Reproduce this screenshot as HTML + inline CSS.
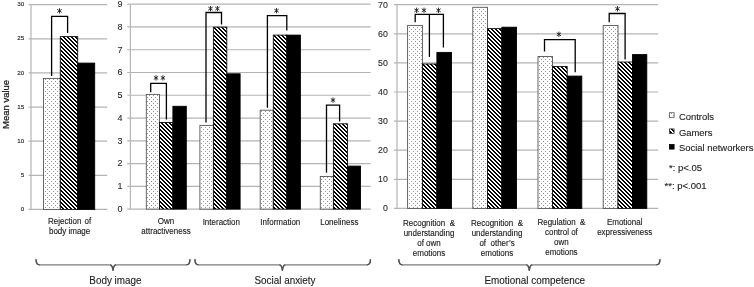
<!DOCTYPE html>
<html><head><meta charset="utf-8"><style>
html,body{margin:0;padding:0;background:#fff;}
svg{display:block;}
text{font-family:"Liberation Sans", sans-serif;white-space:pre;}
svg{will-change:transform;}
</style></head><body>
<svg width="754" height="287" viewBox="0 0 754 287">
<rect width="754" height="287" fill="#fff"/>

<defs>
<pattern id="dots" patternUnits="userSpaceOnUse" width="4" height="4" x="0" y="0">
<rect width="4" height="4" fill="#fff"/>
<rect x="1" y="3" width="1" height="1" fill="#959595"/>
<rect x="3" y="1" width="1" height="1" fill="#959595"/>
</pattern>
<pattern id="hatch" patternUnits="userSpaceOnUse" width="4" height="4">
<rect width="4" height="4" fill="#fff"/>
<rect x="2" y="0" width="1" height="1" fill="#000"/>
<rect x="3" y="0" width="1" height="1" fill="#000"/>
<rect x="0" y="1" width="1" height="1" fill="#000"/>
<rect x="3" y="1" width="1" height="1" fill="#000"/>
<rect x="0" y="2" width="1" height="1" fill="#000"/>
<rect x="1" y="2" width="1" height="1" fill="#000"/>
<rect x="1" y="3" width="1" height="1" fill="#000"/>
<rect x="2" y="3" width="1" height="1" fill="#000"/>
</pattern>
</defs>
<line x1="28.6" y1="209.4" x2="107.2" y2="209.4" stroke="#b4b4b4" stroke-width="1.2"/>
<line x1="28.6" y1="175.28" x2="107.2" y2="175.28" stroke="#b4b4b4" stroke-width="1.2"/>
<line x1="28.6" y1="141.17" x2="107.2" y2="141.17" stroke="#b4b4b4" stroke-width="1.2"/>
<line x1="28.6" y1="107.05" x2="107.2" y2="107.05" stroke="#b4b4b4" stroke-width="1.2"/>
<line x1="28.6" y1="72.93" x2="107.2" y2="72.93" stroke="#b4b4b4" stroke-width="1.2"/>
<line x1="28.6" y1="38.82" x2="107.2" y2="38.82" stroke="#b4b4b4" stroke-width="1.2"/>
<line x1="28.6" y1="4.7" x2="107.2" y2="4.7" stroke="#b4b4b4" stroke-width="1.2"/>
<line x1="31" y1="4.7" x2="31" y2="209.4" stroke="#b4b4b4" stroke-width="1.2"/>
<text transform="translate(24.2,211.05) scale(1,1.0)" font-size="6.2" text-anchor="end" fill="#1e1e1e" stroke="#1e1e1e" stroke-width="0.12" >0</text>
<text transform="translate(24.2,176.93) scale(1,1.0)" font-size="6.2" text-anchor="end" fill="#1e1e1e" stroke="#1e1e1e" stroke-width="0.12" >5</text>
<text transform="translate(24.2,142.82) scale(1,1.0)" font-size="6.2" text-anchor="end" fill="#1e1e1e" stroke="#1e1e1e" stroke-width="0.12" >10</text>
<text transform="translate(24.2,108.7) scale(1,1.0)" font-size="6.2" text-anchor="end" fill="#1e1e1e" stroke="#1e1e1e" stroke-width="0.12" >15</text>
<text transform="translate(24.2,74.58) scale(1,1.0)" font-size="6.2" text-anchor="end" fill="#1e1e1e" stroke="#1e1e1e" stroke-width="0.12" >20</text>
<text transform="translate(24.2,40.47) scale(1,1.0)" font-size="6.2" text-anchor="end" fill="#1e1e1e" stroke="#1e1e1e" stroke-width="0.12" >25</text>
<text transform="translate(24.2,6.35) scale(1,1.0)" font-size="6.2" text-anchor="end" fill="#1e1e1e" stroke="#1e1e1e" stroke-width="0.12" >30</text>
<line x1="127.2" y1="209.1" x2="370.6" y2="209.1" stroke="#b4b4b4" stroke-width="1.2"/>
<line x1="127.2" y1="186.33" x2="370.6" y2="186.33" stroke="#b4b4b4" stroke-width="1.2"/>
<line x1="127.2" y1="163.57" x2="370.6" y2="163.57" stroke="#b4b4b4" stroke-width="1.2"/>
<line x1="127.2" y1="140.8" x2="370.6" y2="140.8" stroke="#b4b4b4" stroke-width="1.2"/>
<line x1="127.2" y1="118.03" x2="370.6" y2="118.03" stroke="#b4b4b4" stroke-width="1.2"/>
<line x1="127.2" y1="95.27" x2="370.6" y2="95.27" stroke="#b4b4b4" stroke-width="1.2"/>
<line x1="127.2" y1="72.5" x2="370.6" y2="72.5" stroke="#b4b4b4" stroke-width="1.2"/>
<line x1="127.2" y1="49.73" x2="370.6" y2="49.73" stroke="#b4b4b4" stroke-width="1.2"/>
<line x1="127.2" y1="26.97" x2="370.6" y2="26.97" stroke="#b4b4b4" stroke-width="1.2"/>
<line x1="127.2" y1="4.2" x2="370.6" y2="4.2" stroke="#b4b4b4" stroke-width="1.2"/>
<line x1="130.4" y1="4.2" x2="130.4" y2="209.1" stroke="#b4b4b4" stroke-width="1.2"/>
<text transform="translate(122.4,211.9) scale(1,1.06)" font-size="9.0" text-anchor="end" fill="#2a2a2a" stroke="#2a2a2a" stroke-width="0.1" >0</text>
<text transform="translate(122.4,189.13) scale(1,1.06)" font-size="9.0" text-anchor="end" fill="#2a2a2a" stroke="#2a2a2a" stroke-width="0.1" >1</text>
<text transform="translate(122.4,166.37) scale(1,1.06)" font-size="9.0" text-anchor="end" fill="#2a2a2a" stroke="#2a2a2a" stroke-width="0.1" >2</text>
<text transform="translate(122.4,143.6) scale(1,1.06)" font-size="9.0" text-anchor="end" fill="#2a2a2a" stroke="#2a2a2a" stroke-width="0.1" >3</text>
<text transform="translate(122.4,120.83) scale(1,1.06)" font-size="9.0" text-anchor="end" fill="#2a2a2a" stroke="#2a2a2a" stroke-width="0.1" >4</text>
<text transform="translate(122.4,98.07) scale(1,1.06)" font-size="9.0" text-anchor="end" fill="#2a2a2a" stroke="#2a2a2a" stroke-width="0.1" >5</text>
<text transform="translate(122.4,75.3) scale(1,1.06)" font-size="9.0" text-anchor="end" fill="#2a2a2a" stroke="#2a2a2a" stroke-width="0.1" >6</text>
<text transform="translate(122.4,52.53) scale(1,1.06)" font-size="9.0" text-anchor="end" fill="#2a2a2a" stroke="#2a2a2a" stroke-width="0.1" >7</text>
<text transform="translate(122.4,29.77) scale(1,1.06)" font-size="9.0" text-anchor="end" fill="#2a2a2a" stroke="#2a2a2a" stroke-width="0.1" >8</text>
<text transform="translate(122.4,7.0) scale(1,1.06)" font-size="9.0" text-anchor="end" fill="#2a2a2a" stroke="#2a2a2a" stroke-width="0.1" >9</text>
<line x1="393.9" y1="208.4" x2="658.2" y2="208.4" stroke="#b4b4b4" stroke-width="1.2"/>
<line x1="393.9" y1="179.3" x2="658.2" y2="179.3" stroke="#b4b4b4" stroke-width="1.2"/>
<line x1="393.9" y1="150.2" x2="658.2" y2="150.2" stroke="#b4b4b4" stroke-width="1.2"/>
<line x1="393.9" y1="121.1" x2="658.2" y2="121.1" stroke="#b4b4b4" stroke-width="1.2"/>
<line x1="393.9" y1="92.0" x2="658.2" y2="92.0" stroke="#b4b4b4" stroke-width="1.2"/>
<line x1="393.9" y1="62.9" x2="658.2" y2="62.9" stroke="#b4b4b4" stroke-width="1.2"/>
<line x1="393.9" y1="33.8" x2="658.2" y2="33.8" stroke="#b4b4b4" stroke-width="1.2"/>
<line x1="393.9" y1="4.7" x2="658.2" y2="4.7" stroke="#b4b4b4" stroke-width="1.2"/>
<line x1="397" y1="4.7" x2="397" y2="208.4" stroke="#b4b4b4" stroke-width="1.2"/>
<text transform="translate(387.8,211.3) scale(1,1.06)" font-size="8.8" text-anchor="end" fill="#2a2a2a" stroke="#2a2a2a" stroke-width="0.1" >0</text>
<text transform="translate(387.8,182.2) scale(1,1.06)" font-size="8.8" text-anchor="end" fill="#2a2a2a" stroke="#2a2a2a" stroke-width="0.1" >10</text>
<text transform="translate(387.8,153.1) scale(1,1.06)" font-size="8.8" text-anchor="end" fill="#2a2a2a" stroke="#2a2a2a" stroke-width="0.1" >20</text>
<text transform="translate(387.8,124.0) scale(1,1.06)" font-size="8.8" text-anchor="end" fill="#2a2a2a" stroke="#2a2a2a" stroke-width="0.1" >30</text>
<text transform="translate(387.8,94.9) scale(1,1.06)" font-size="8.8" text-anchor="end" fill="#2a2a2a" stroke="#2a2a2a" stroke-width="0.1" >40</text>
<text transform="translate(387.8,65.8) scale(1,1.06)" font-size="8.8" text-anchor="end" fill="#2a2a2a" stroke="#2a2a2a" stroke-width="0.1" >50</text>
<text transform="translate(387.8,36.7) scale(1,1.06)" font-size="8.8" text-anchor="end" fill="#2a2a2a" stroke="#2a2a2a" stroke-width="0.1" >60</text>
<text transform="translate(387.8,7.6) scale(1,1.06)" font-size="8.8" text-anchor="end" fill="#2a2a2a" stroke="#2a2a2a" stroke-width="0.1" >70</text>
<rect x="43.5" y="78.4" width="16.80" height="131.00" fill="url(#dots)" stroke="#555" stroke-width="0.9"/>
<rect x="60.3" y="36.6" width="17.40" height="172.80" fill="url(#hatch)" stroke="#111" stroke-width="0.9"/>
<rect x="77.7" y="63.1" width="17.00" height="146.30" fill="#000" stroke="#000" stroke-width="0.9"/>
<rect x="146.3" y="94.4" width="13.20" height="114.70" fill="url(#dots)" stroke="#555" stroke-width="0.9"/>
<rect x="159.5" y="122.5" width="13.40" height="86.60" fill="url(#hatch)" stroke="#111" stroke-width="0.9"/>
<rect x="172.9" y="106.3" width="13.40" height="102.80" fill="#000" stroke="#000" stroke-width="0.9"/>
<rect x="199.9" y="125.4" width="13.50" height="83.70" fill="url(#dots)" stroke="#555" stroke-width="0.9"/>
<rect x="213.4" y="27.1" width="13.40" height="182.00" fill="url(#hatch)" stroke="#111" stroke-width="0.9"/>
<rect x="226.8" y="73.8" width="13.30" height="135.30" fill="#000" stroke="#000" stroke-width="0.9"/>
<rect x="260.2" y="110.2" width="13.10" height="98.90" fill="url(#dots)" stroke="#555" stroke-width="0.9"/>
<rect x="273.3" y="35.1" width="13.60" height="174.00" fill="url(#hatch)" stroke="#111" stroke-width="0.9"/>
<rect x="286.9" y="35.1" width="13.50" height="174.00" fill="#000" stroke="#000" stroke-width="0.9"/>
<rect x="320.3" y="176.5" width="13.10" height="32.60" fill="url(#dots)" stroke="#555" stroke-width="0.9"/>
<rect x="333.4" y="123.8" width="14.10" height="85.30" fill="url(#hatch)" stroke="#111" stroke-width="0.9"/>
<rect x="347.5" y="166.1" width="13.00" height="43.00" fill="#000" stroke="#000" stroke-width="0.9"/>
<rect x="407.6" y="25.4" width="14.80" height="183.00" fill="url(#dots)" stroke="#555" stroke-width="0.9"/>
<rect x="422.4" y="64.0" width="14.50" height="144.40" fill="url(#hatch)" stroke="#111" stroke-width="0.9"/>
<rect x="436.9" y="52.4" width="14.60" height="156.00" fill="#000" stroke="#000" stroke-width="0.9"/>
<rect x="472.8" y="7.3" width="14.70" height="201.10" fill="url(#dots)" stroke="#555" stroke-width="0.9"/>
<rect x="487.5" y="28.6" width="14.40" height="179.80" fill="url(#hatch)" stroke="#111" stroke-width="0.9"/>
<rect x="501.9" y="27.2" width="14.60" height="181.20" fill="#000" stroke="#000" stroke-width="0.9"/>
<rect x="538.0" y="56.5" width="14.50" height="151.90" fill="url(#dots)" stroke="#555" stroke-width="0.9"/>
<rect x="552.5" y="66.5" width="14.70" height="141.90" fill="url(#hatch)" stroke="#111" stroke-width="0.9"/>
<rect x="567.2" y="76.1" width="14.60" height="132.30" fill="#000" stroke="#000" stroke-width="0.9"/>
<rect x="603.2" y="25.5" width="14.80" height="182.90" fill="url(#dots)" stroke="#555" stroke-width="0.9"/>
<rect x="618.0" y="62.0" width="14.50" height="146.40" fill="url(#hatch)" stroke="#111" stroke-width="0.9"/>
<rect x="632.5" y="54.6" width="14.30" height="153.80" fill="#000" stroke="#000" stroke-width="0.9"/>
<path d="M51.6,76.0 V16.4 H67.6 V33.0" fill="none" stroke="#000" stroke-width="1.3"/>
<path d="M150.7,92.3 V83.3 H166.4 V119.6" fill="none" stroke="#000" stroke-width="1.3"/>
<path d="M206.0,122.6 V12.5 H221.5 V24.4" fill="none" stroke="#000" stroke-width="1.3"/>
<path d="M267.4,107.7 V15.7 H286.8 V30.5" fill="none" stroke="#000" stroke-width="1.3"/>
<path d="M326.5,172.8 V105.1 H339.6 V121.4" fill="none" stroke="#000" stroke-width="1.3"/>
<path d="M415.2,22.3 V14.4 H443.4 V47.6" fill="none" stroke="#000" stroke-width="1.3"/>
<path d="M429.4,14.4 V57.0" fill="none" stroke="#000" stroke-width="1.3"/>
<path d="M544.5,51.5 V39.6 H575.2 V72.3" fill="none" stroke="#000" stroke-width="1.3"/>
<path d="M609.2,22.3 V13.5 H625.1 V59.5" fill="none" stroke="#000" stroke-width="1.3"/>
<path d="M59.50,8.65 L59.50,13.15 M57.66,9.61 L61.34,12.19 M61.34,9.61 L57.66,12.19 " stroke="#222" stroke-width="0.95" stroke-linecap="round" fill="none"/>
<path d="M156.00,75.65 L156.00,80.15 M154.16,76.61 L157.84,79.19 M157.84,76.61 L154.16,79.19 " stroke="#222" stroke-width="0.95" stroke-linecap="round" fill="none"/>
<path d="M162.90,75.65 L162.90,80.15 M161.06,76.61 L164.74,79.19 M164.74,76.61 L161.06,79.19 " stroke="#222" stroke-width="0.95" stroke-linecap="round" fill="none"/>
<path d="M210.50,6.35 L210.50,10.85 M208.66,7.31 L212.34,9.89 M212.34,7.31 L208.66,9.89 " stroke="#222" stroke-width="0.95" stroke-linecap="round" fill="none"/>
<path d="M217.40,6.35 L217.40,10.85 M215.56,7.31 L219.24,9.89 M219.24,7.31 L215.56,9.89 " stroke="#222" stroke-width="0.95" stroke-linecap="round" fill="none"/>
<path d="M276.50,8.45 L276.50,12.95 M274.66,9.41 L278.34,11.99 M278.34,9.41 L274.66,11.99 " stroke="#222" stroke-width="0.95" stroke-linecap="round" fill="none"/>
<path d="M333.00,97.85 L333.00,102.35 M331.16,98.81 L334.84,101.39 M334.84,98.81 L331.16,101.39 " stroke="#222" stroke-width="0.95" stroke-linecap="round" fill="none"/>
<path d="M416.60,8.05 L416.60,12.55 M414.76,9.01 L418.44,11.59 M418.44,9.01 L414.76,11.59 " stroke="#222" stroke-width="0.95" stroke-linecap="round" fill="none"/>
<path d="M424.00,8.05 L424.00,12.55 M422.16,9.01 L425.84,11.59 M425.84,9.01 L422.16,11.59 " stroke="#222" stroke-width="0.95" stroke-linecap="round" fill="none"/>
<path d="M438.50,8.05 L438.50,12.55 M436.66,9.01 L440.34,11.59 M440.34,9.01 L436.66,11.59 " stroke="#222" stroke-width="0.95" stroke-linecap="round" fill="none"/>
<path d="M558.90,32.05 L558.90,36.55 M557.06,33.01 L560.74,35.59 M560.74,33.01 L557.06,35.59 " stroke="#222" stroke-width="0.95" stroke-linecap="round" fill="none"/>
<path d="M617.50,6.55 L617.50,11.05 M615.66,7.51 L619.34,10.09 M619.34,7.51 L615.66,10.09 " stroke="#222" stroke-width="0.95" stroke-linecap="round" fill="none"/>
<text transform="translate(69.6,223.7) scale(1,1.06)" font-size="8.0" text-anchor="middle" fill="#1a1a1a" stroke="#1a1a1a" stroke-width="0.12" word-spacing="1.0">Rejection of</text>
<text transform="translate(69.6,233.65) scale(1,1.06)" font-size="8.0" text-anchor="middle" fill="#1a1a1a" stroke="#1a1a1a" stroke-width="0.12" >body image</text>
<text transform="translate(166.0,224.3) scale(1,1.06)" font-size="8.0" text-anchor="middle" fill="#1a1a1a" stroke="#1a1a1a" stroke-width="0.12" >Own</text>
<text transform="translate(166.0,234.25) scale(1,1.06)" font-size="8.0" text-anchor="middle" fill="#1a1a1a" stroke="#1a1a1a" stroke-width="0.12" >attractiveness</text>
<text transform="translate(221.3,224.8) scale(1,1.06)" font-size="8.0" text-anchor="middle" fill="#1a1a1a" stroke="#1a1a1a" stroke-width="0.12" >Interaction</text>
<text transform="translate(280.3,224.8) scale(1,1.06)" font-size="8.0" text-anchor="middle" fill="#1a1a1a" stroke="#1a1a1a" stroke-width="0.12" >Information</text>
<text transform="translate(339.3,224.8) scale(1,1.06)" font-size="8.0" text-anchor="middle" fill="#1a1a1a" stroke="#1a1a1a" stroke-width="0.12" >Loneliness</text>
<text transform="translate(429.0,226.3) scale(1,1.06)" font-size="8.0" text-anchor="middle" fill="#1a1a1a" stroke="#1a1a1a" stroke-width="0.12" >Recognition  &</text>
<text transform="translate(429.0,236.25) scale(1,1.06)" font-size="8.0" text-anchor="middle" fill="#1a1a1a" stroke="#1a1a1a" stroke-width="0.12" >understanding</text>
<text transform="translate(429.0,246.2) scale(1,1.06)" font-size="8.0" text-anchor="middle" fill="#1a1a1a" stroke="#1a1a1a" stroke-width="0.12" >of own</text>
<text transform="translate(429.0,256.15) scale(1,1.06)" font-size="8.0" text-anchor="middle" fill="#1a1a1a" stroke="#1a1a1a" stroke-width="0.12" >emotions</text>
<text transform="translate(497.0,225.9) scale(1,1.06)" font-size="8.0" text-anchor="middle" fill="#1a1a1a" stroke="#1a1a1a" stroke-width="0.12" >Recognition  &</text>
<text transform="translate(497.0,235.85) scale(1,1.06)" font-size="8.0" text-anchor="middle" fill="#1a1a1a" stroke="#1a1a1a" stroke-width="0.12" >understanding</text>
<text transform="translate(497.0,245.8) scale(1,1.06)" font-size="8.0" text-anchor="middle" fill="#1a1a1a" stroke="#1a1a1a" stroke-width="0.12" >of  other&#8217;s</text>
<text transform="translate(497.0,255.75) scale(1,1.06)" font-size="8.0" text-anchor="middle" fill="#1a1a1a" stroke="#1a1a1a" stroke-width="0.12" >emotions</text>
<text transform="translate(561.4,225.2) scale(1,1.06)" font-size="8.0" text-anchor="middle" fill="#1a1a1a" stroke="#1a1a1a" stroke-width="0.12" >Regulation  &</text>
<text transform="translate(561.4,235.15) scale(1,1.06)" font-size="8.0" text-anchor="middle" fill="#1a1a1a" stroke="#1a1a1a" stroke-width="0.12" >control of</text>
<text transform="translate(561.4,245.1) scale(1,1.06)" font-size="8.0" text-anchor="middle" fill="#1a1a1a" stroke="#1a1a1a" stroke-width="0.12" >own</text>
<text transform="translate(561.4,255.05) scale(1,1.06)" font-size="8.0" text-anchor="middle" fill="#1a1a1a" stroke="#1a1a1a" stroke-width="0.12" >emotions</text>
<text transform="translate(624.7,225.2) scale(1,1.06)" font-size="8.0" text-anchor="middle" fill="#1a1a1a" stroke="#1a1a1a" stroke-width="0.12" >Emotional</text>
<text transform="translate(624.7,235.15) scale(1,1.06)" font-size="8.0" text-anchor="middle" fill="#1a1a1a" stroke="#1a1a1a" stroke-width="0.12" >expressiveness</text>
<text transform="translate(8.9,104.4) rotate(-90)" font-size="9.5" text-anchor="middle" fill="#1a1a1a" stroke="#1a1a1a" stroke-width="0.25">Mean value</text>
<rect x="669.5" y="112.7" width="4.6" height="4.6" fill="url(#dots)" stroke="#555" stroke-width="0.8"/>
<rect x="669.5" y="128.9" width="4.6" height="4.6" fill="url(#hatch)" stroke="#333" stroke-width="0.8"/>
<rect x="669.5" y="144.5" width="4.6" height="4.6" fill="#000" stroke="#000" stroke-width="0.8"/>
<text transform="translate(678.9,120.0) scale(1,1.0)" font-size="9.45" text-anchor="start" fill="#222" stroke="#222" stroke-width="0.12" >Controls</text>
<text transform="translate(678.9,135.5) scale(1,1.0)" font-size="9.45" text-anchor="start" fill="#222" stroke="#222" stroke-width="0.12" >Gamers</text>
<text transform="translate(678.9,151.1) scale(1,1.0)" font-size="9.45" text-anchor="start" fill="#222" stroke="#222" stroke-width="0.12" >Social networkers</text>
<text transform="translate(669.0,171.2) scale(1,1.0)" font-size="9.5" text-anchor="start" fill="#222" stroke="#222" stroke-width="0.12" >*: p&lt;.05</text>
<text transform="translate(664.6,189.3) scale(1,1.0)" font-size="9.5" text-anchor="start" fill="#222" stroke="#222" stroke-width="0.12" >**: p&lt;.001</text>
<path d="M36.0,259.2 Q36.0,264.8 39.7,264.8 H109.0 Q112.5,264.8 113.0,270.6 Q113.5,264.8 117.0,264.8 H186.3 Q190.0,264.8 190.0,259.2" fill="none" stroke="#7c7c7c" stroke-width="1.3"/>
<path d="M36.0,259.2 Q36.0,264.8 39.7,264.8 M110.0,264.7 Q112.5,264.8 113.0,270.6 Q113.5,264.8 116.0,264.7 M186.3,264.8 Q190.0,264.8 190.0,259.2" fill="none" stroke="#505050" stroke-width="1.3"/>
<path d="M194.9,259.2 Q194.9,264.8 198.6,264.8 H278.4 Q281.9,264.8 282.4,270.6 Q282.9,264.8 286.4,264.8 H366.8 Q370.5,264.8 370.5,259.2" fill="none" stroke="#7c7c7c" stroke-width="1.3"/>
<path d="M194.9,259.2 Q194.9,264.8 198.6,264.8 M279.4,264.7 Q281.9,264.8 282.4,270.6 Q282.9,264.8 285.4,264.7 M366.8,264.8 Q370.5,264.8 370.5,259.2" fill="none" stroke="#505050" stroke-width="1.3"/>
<path d="M398.8,259.2 Q398.8,264.8 402.5,264.8 H525.3 Q528.8,264.8 529.3,270.6 Q529.8,264.8 533.3,264.8 H656.3 Q660.0,264.8 660.0,259.2" fill="none" stroke="#7c7c7c" stroke-width="1.3"/>
<path d="M398.8,259.2 Q398.8,264.8 402.5,264.8 M526.3,264.7 Q528.8,264.8 529.3,270.6 Q529.8,264.8 532.3,264.7 M656.3,264.8 Q660.0,264.8 660.0,259.2" fill="none" stroke="#505050" stroke-width="1.3"/>
<text transform="translate(115.4,283.8) scale(1,1.06)" font-size="9.9" text-anchor="middle" fill="#1e1e1e" stroke="#1e1e1e" stroke-width="0.12" >Body image</text>
<text transform="translate(285.0,283.7) scale(1,1.06)" font-size="9.9" text-anchor="middle" fill="#1e1e1e" stroke="#1e1e1e" stroke-width="0.12" >Social anxiety</text>
<text transform="translate(534.8,283.8) scale(1,1.06)" font-size="9.9" text-anchor="middle" fill="#1e1e1e" stroke="#1e1e1e" stroke-width="0.12" >Emotional competence</text>
</svg>
</body></html>
